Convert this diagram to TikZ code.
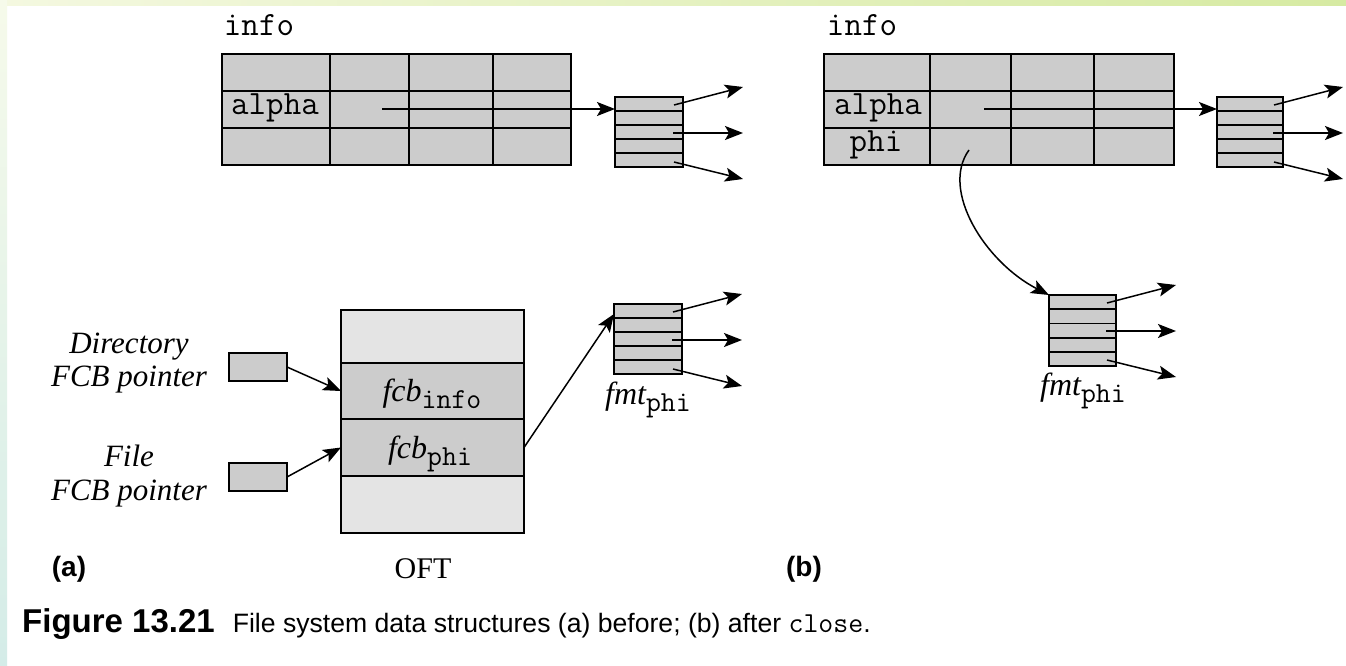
\documentclass[tikz,border=0pt]{standalone}
\usepackage{fontspec}
\setmainfont{Liberation Serif}
\setsansfont{Liberation Sans}
\usetikzlibrary{arrows.meta,calc}
\definecolor{cellgray}{RGB}{204,204,204}
\definecolor{lightcell}{RGB}{228,228,228}
\definecolor{bgA}{RGB}{244,248,224}
\definecolor{bgB}{RGB}{214,234,162}
\definecolor{bgC}{RGB}{246,250,234}
\definecolor{bgD}{RGB}{212,236,232}
\tikzset{
  gridline/.style={line width=1.8pt, draw=black},
  box/.style={rectangle, draw=black, line width=1.8pt, fill=cellgray, inner sep=0pt, outer sep=0pt},
  fmtbox/.style={box, minimum width=68pt, minimum height=70pt, anchor=north west},
  arr/.style={line width=1.5pt, -{Stealth[length=18pt,width=14pt,inset=4pt]}},
  ttl/.style={font=\ttfamily\fontsize{34}{34}\selectfont, inner sep=0pt, anchor=base},
  itl/.style={font=\itshape\fontsize{31}{33.5}\selectfont, align=center, inner sep=0pt},
  lbl/.style={font=\sffamily\bfseries\fontsize{28}{28}\selectfont, inner sep=0pt},
  sublbl/.style={inner sep=0pt, anchor=base},
}
\newcommand\fmtrows[1]{%
  \foreach \i in {1,2,3,4}{\draw[gridline] ($(#1.north west)!\i/5!(#1.south west)$) -- ($(#1.north east)!\i/5!(#1.south east)$);}}
\newcommand\fanout[1]{%
  \coordinate (#1-s1) at ($(#1.north east)+(-9,8)$);
  \coordinate (#1-t1) at ($(#1.north east)+(60,-10)$);
  \coordinate (#1-s2) at ($(#1.north east)+(-10,36)$);
  \coordinate (#1-t2) at ($(#1.north east)+(60,36)$);
  \coordinate (#1-s3) at ($(#1.north east)+(-9,65)$);
  \coordinate (#1-t3) at ($(#1.north east)+(60,82)$);
  \draw[arr] (#1-s1) -- (#1-t1);
  \draw[arr] (#1-s2) -- (#1-t2);
  \draw[arr] (#1-s3) -- (#1-t3);}
\newcommand\fcblabel[1]{{\itshape\fontsize{32}{32}\selectfont fcb}\raisebox{-7pt}{\ttfamily\fontsize{29}{29}\selectfont #1}}
\newcommand\fmtlabel[1]{{\itshape\fontsize{32}{32}\selectfont fmt}\raisebox{-7pt}{\ttfamily\fontsize{29}{29}\selectfont #1}}
\begin{document}
\begin{tikzpicture}[x=1pt,y=-1pt]
\useasboundingbox (0,0) rectangle (1346,666);
\fill[white] (0,0) rectangle (1346,666);
\shade[left color=bgA, right color=bgB] (0,0) rectangle (1346,6);
\shade[top color=bgC, bottom color=bgD] (0,0) rectangle (7,666);

% ---------- (a) top: directory table ----------
\node[ttl] (infoA) at (259,36) {info};
\node[box, minimum width=349pt, minimum height=111pt, anchor=north west] (tA) at (222,54) {};
\foreach \yy in {91,128} \draw[gridline] (222,\yy) -- (571,\yy);
\foreach \xx in {330,409,493} \draw[gridline] (\xx,54) -- (\xx,165);
\node[ttl] (alphaA) at (275,115) {alpha};
\node[fmtbox] (fA1) at (615,97) {};
\fmtrows{fA1}
\fanout{fA1}
\coordinate (sA) at (382,109);
\draw[arr] (sA) -- (sA -| fA1.west);

% ---------- (a) bottom: OFT ----------
\node[itl] (dirlbl) at (129,363) {Directory\\FCB pointer};
\node[itl] (filelbl) at (129,476) {File\\FCB pointer};
\node[box, minimum width=58pt, minimum height=28pt, anchor=north west] (dp) at (229,353) {};
\node[box, minimum width=58pt, minimum height=28pt, anchor=north west] (fp) at (229,463) {};
\node[box, fill=lightcell, minimum width=183pt, minimum height=53pt, anchor=north west] (oft1) at (341,310) {};
\node[box, minimum width=183pt, minimum height=56pt, anchor=north west] (oft2) at (341,363) {};
\node[box, minimum width=183pt, minimum height=57pt, anchor=north west] (oft3) at (341,419) {};
\node[box, fill=lightcell, minimum width=183pt, minimum height=57pt, anchor=north west] (oft4) at (341,476) {};
\node[sublbl] (fcbinfo) at (432,401) {\fcblabel{info}};
\node[sublbl] (fcbphi) at (430,458) {\fcblabel{phi}};
\node[font=\fontsize{30}{30}\selectfont, inner sep=0pt, anchor=base] (oftlbl) at (423,578) {OFT};
\node[fmtbox] (fA2) at (614,304) {};
\fmtrows{fA2}
\fanout{fA2}
\node[sublbl] (fmtA) at (648,404) {\fmtlabel{phi}};
\draw[arr] (dp.east) -- (oft2.west);
\draw[arr] (fp.east) -- (oft3.west);
\draw[arr] (oft3.east) -- ($(fA2.north west)+(0,10)$);
\node[lbl, anchor=base] (la) at (69,576) {(a)};

% ---------- (b) ----------
\node[ttl] (infoB) at (862,36) {info};
\node[box, minimum width=350pt, minimum height=111pt, anchor=north west] (tB) at (824,54) {};
\foreach \yy in {91,128} \draw[gridline] (824,\yy) -- (1174,\yy);
\foreach \xx in {930,1011,1094} \draw[gridline] (\xx,54) -- (\xx,165);
\node[ttl] (alphaB) at (878,115) {alpha};
\node[ttl] (phiB) at (876,151) {phi};
\node[fmtbox, minimum width=66pt] (fB1) at (1217,97) {};
\fmtrows{fB1}
\fanout{fB1}
\coordinate (sB) at (984,109);
\draw[arr] (sB) -- (sB -| fB1.west);
\node[fmtbox, minimum width=67pt, minimum height=71pt] (fB2) at (1049,295) {};
\fmtrows{fB2}
\fanout{fB2}
\node[sublbl] (fmtB) at (1083,395) {\fmtlabel{phi}};
\coordinate (cB) at (969,150);
\draw[arr] (cB) .. controls (940,190) and (985,262) .. (fB2.north west);
\node[lbl, anchor=base] (lb) at (804,576) {(b)};

% ---------- caption ----------
\node[anchor=base west, inner sep=0pt] (cap) at (22,632)
  {{\sffamily\bfseries\fontsize{33}{33}\selectfont Figure 13.21}\hspace{18pt}{\sffamily\fontsize{26.6}{26.6}\selectfont File system data structures (a) before; (b) after {\ttfamily\fontsize{29}{29}\selectfont close}.}};
\end{tikzpicture}
\end{document}
